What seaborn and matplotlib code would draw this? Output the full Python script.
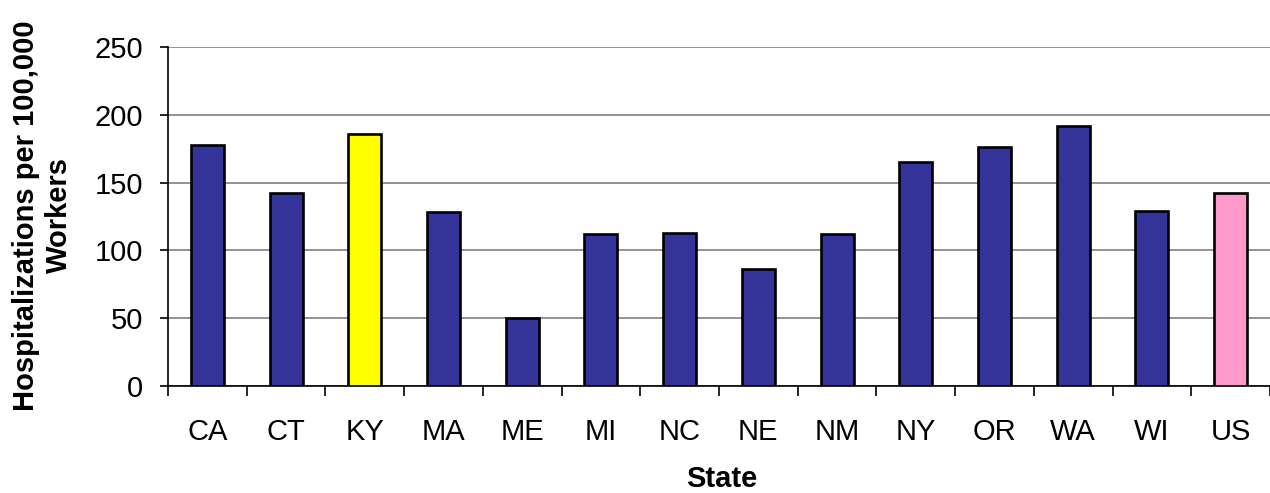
import matplotlib
matplotlib.use("Agg")
import matplotlib.pyplot as plt
import seaborn as sns
import pandas as pd
import numpy as np

states = ["CA", "CT", "KY", "MA", "ME", "MI", "NC", "NE", "NM", "NY", "OR", "WA", "WI", "US"]
rates = [178, 142, 186, 128, 50, 112, 113, 86, 112, 165, 176, 192, 129, 142]
bar_colors = ["#333399", "#333399", "#FFFF00", "#333399", "#333399", "#333399", "#333399",
              "#333399", "#333399", "#333399", "#333399", "#333399", "#333399", "#FF99CC"]
y_ticks = [0, 50, 100, 150, 200, 250]

sns.set_theme(style="white")
plt.rcParams["font.family"] = ["Liberation Sans", "DejaVu Sans"]
plt.rcParams["text.color"] = "black"

df = pd.DataFrame({"State": states, "Rate": rates})

fig = plt.figure(figsize=(12.7, 4.93), dpi=100)
ax = fig.add_axes([0.1323, 0.217, 0.8677, 0.688])

sns.barplot(data=df, x="State", y="Rate", hue="State", palette=bar_colors,
            legend=False, width=0.42, edgecolor="black", linewidth=1.9,
            saturation=1, ax=ax, zorder=3)

ax.set_ylim(0, 250)
ax.set_xlim(-0.5, len(states) - 0.5)
ax.set_yticks(y_ticks)
ax.yaxis.grid(True, color="#808080", linewidth=1.2, zorder=0)
ax.set_axisbelow(True)

# category ticks sit between bars
ax.set_xticks(np.arange(-0.5, len(states), 1.0), minor=True)
ax.tick_params(axis="x", which="major", length=0, pad=23, labelsize=21, colors="black")
ax.tick_params(axis="x", which="minor", length=7, width=1.2, color="black", direction="out", bottom=True)
ax.tick_params(axis="y", which="major", length=6, width=1.2, color="black", direction="out",
               left=True, labelsize=21, pad=12, labelcolor="black")

for side in ["top", "right"]:
    ax.spines[side].set_visible(False)
for side in ["left", "bottom"]:
    ax.spines[side].set_color("black")
    ax.spines[side].set_linewidth(1.2)

ax.set_xlabel("")
ax.set_ylabel("")
fig.text(0.5685, 0.028, "State", ha="center", va="center", fontsize=21,
         fontweight="bold", color="black")
fig.text(0.0335, 0.563, "Hospitalizations per 100,000\nWorkers", ha="center", va="center",
         rotation=90, fontsize=21, fontweight="bold", linespacing=1.25, color="black")

fig.savefig("out.png", dpi=100)
